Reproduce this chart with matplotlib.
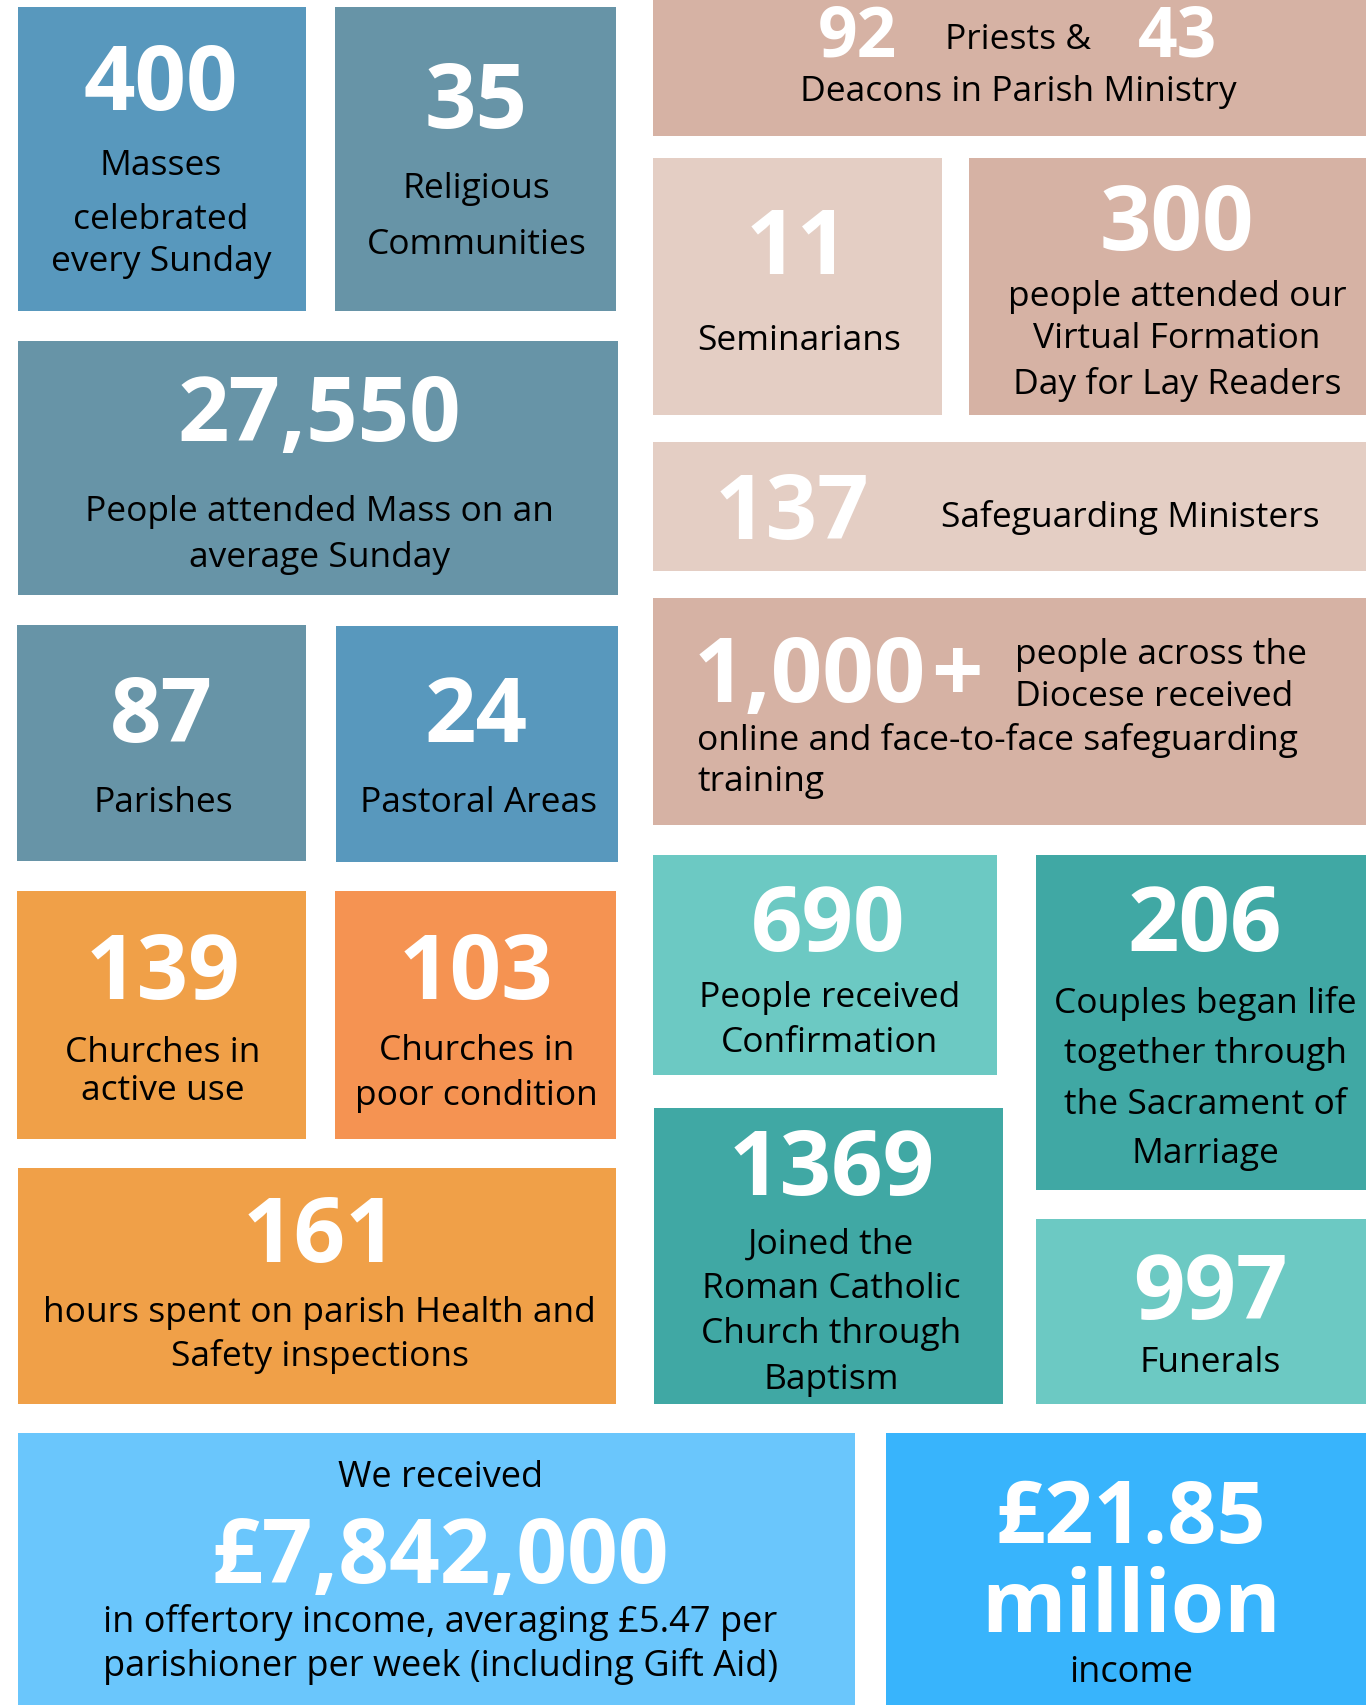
import matplotlib.pyplot as plt
from matplotlib.patches import Rectangle

# ── Data ───────────────────────────────────────────────────────────────────────
stat_numbers = ["400", "35", "27,550", "11", "300", "137", "87", "24",
                "139", "103", "161", "690", "206", "1369", "997"]
stat_labels = [
    ["Masses", "celebrated", "every Sunday"],
    ["Religious", "Communities"],
    ["People attended Mass on an", "average Sunday"],
    ["Seminarians"],
    ["people attended our", "Virtual Formation", "Day for Lay Readers"],
    ["Safeguarding Ministers"],
    ["Parishes"],
    ["Pastoral Areas"],
    ["Churches in", "active use"],
    ["Churches in", "poor condition"],
    ["hours spent on parish Health and", "Safety inspections"],
    ["People received", "Confirmation"],
    ["Couples began life", "together through", "the Sacrament of", "Marriage"],
    ["Joined the", "Roman Catholic", "Church through", "Baptism"],
    ["Funerals"],
]
clergy_numbers = ["92", "43"]
clergy_labels = ["Priests &", "Deacons in Parish Ministry"]
training_number = ["1,000", "+"]
training_labels = ["people across the", "Diocese received",
                   "online and face-to-face safeguarding", "training"]
offertory_labels = ["We received", "£7,842,000",
                    "in offertory income, averaging £5.47 per",
                    "parishioner per week (including Gift Aid)"]
income_labels = ["£21.85", "million", "income"]

# ── Layout (reference pixel space 1256 x 1568) ────────────────────────────────
STEEL = "#5898BD"
SLATE = "#6794A7"
ROSE = "#D6B2A4"
BLUSH = "#E4CEC4"
AMBER = "#F0A048"
CORAL = "#F59352"
AQUA = "#6CC9C3"
TEAL = "#40A8A4"

# (x0, y0, x1, y1), colour, number (centre x, baseline y), label centre x, label line y's
tiles = [
    ((17, 7, 281, 287), STEEL, (148, 101), 148, [150, 199, 238]),
    ((308, 7, 566, 287), SLATE, (438, 118), 438, [171, 222]),
    ((17, 314, 568, 548), SLATE, (294, 405), 294, [468, 510]),
    ((600, 146, 866, 382), BLUSH, (733, 252), 735, [310]),
    ((891, 146, 1256, 382), ROSE, (1082, 230), 1082, [270, 309, 350]),
    ((600, 407, 1256, 526), BLUSH, (728, 495), 1039, [473]),
    ((16, 575, 281, 792), SLATE, (148, 682), 150, [735]),
    ((309, 576, 568, 793), STEEL, (438, 682), 440, [735]),
    ((16, 820, 281, 1048), AMBER, (150, 918), 150, [965, 1000]),
    ((308, 820, 566, 1048), CORAL, (438, 918), 438, [963, 1004]),
    ((17, 1074, 566, 1291), AMBER, (294, 1160), 294, [1204, 1244]),
    ((600, 787, 917, 989), AQUA, (761, 874), 763, [914, 956]),
    ((953, 787, 1256, 1095), TEAL, (1108, 874), 1108, [919, 966, 1013, 1058]),
    ((601, 1019, 922, 1291), TEAL, (765, 1098), 764, [1141, 1182, 1223, 1265]),
    ((953, 1121, 1256, 1291), AQUA, (1113, 1212), 1113, [1250]),
]

NUM_FONT = dict(family=["Open Sans", "DejaVu Sans"], weight="bold", color="white")
LAB_FONT = dict(family=["Open Sans", "DejaVu Sans"], color="black")
NUM_SIZE = 65
LAB_SIZE = 25.5
LAB_DY = 3  # label centre offset

fig = plt.figure(figsize=(13.66, 17.06), dpi=100)
ax = fig.add_axes([0, 0, 1, 1])
ax.set_xlim(0, 1256)
ax.set_ylim(1568, 0)
ax.axis("off")


def box(x0, y0, x1, y1, color):
    ax.add_patch(Rectangle((x0, y0), x1 - x0, y1 - y0, facecolor=color,
                           edgecolor="none"))


def label(x, y, s, ha="center", size=LAB_SIZE):
    ax.text(x, y + LAB_DY, s, ha=ha, va="center", fontsize=size, **LAB_FONT)


for (rect, color, npos, lx, lys), num, labels in zip(tiles, stat_numbers, stat_labels):
    box(*rect, color)
    ax.text(npos[0], npos[1], num, ha="center", va="baseline", fontsize=NUM_SIZE, **NUM_FONT)
    for line, ly in zip(labels, lys):
        label(lx, ly, line)

# clergy tile (runs off the top edge)
box(600, -20, 1256, 126, ROSE)
ax.text(788, 52, clergy_numbers[0], ha="center", va="baseline", fontsize=50, **NUM_FONT)
ax.text(1083, 52, clergy_numbers[1], ha="center", va="baseline", fontsize=50, **NUM_FONT)
label(936, 34, clergy_labels[0])
label(936, 82, clergy_labels[1])

# safeguarding training tile
box(600, 551, 1256, 759, ROSE)
ax.text(638, 645, training_number[0], ha="left", va="baseline", fontsize=NUM_SIZE, **NUM_FONT)
ax.text(880, 645, training_number[1], ha="center", va="baseline", fontsize=NUM_SIZE, **NUM_FONT)
for line, (tx, ty) in zip(training_labels, [(933, 599), (933, 638), (641, 678), (641, 716)]):
    label(tx, ty, line, ha="left")

# offertory tile
box(17, 1318, 786, 1568, "#6AC6FC")
label(405, 1355, offertory_labels[0], size=26)
ax.text(405, 1455, offertory_labels[1], ha="center", va="baseline", fontsize=64, **NUM_FONT)
label(405, 1488, offertory_labels[2], size=26)
label(405, 1529, offertory_labels[3], size=26)

# total income tile
box(815, 1318, 1256, 1568, "#38B4FC")
ax.text(1040, 1418, income_labels[0], ha="center", va="baseline", fontsize=62, **NUM_FONT)
ax.text(1040, 1500, income_labels[1], ha="center", va="baseline", fontsize=62, **NUM_FONT)
label(1040, 1535, income_labels[2], size=26)

fig.savefig("out.png", dpi=100, facecolor="white")
